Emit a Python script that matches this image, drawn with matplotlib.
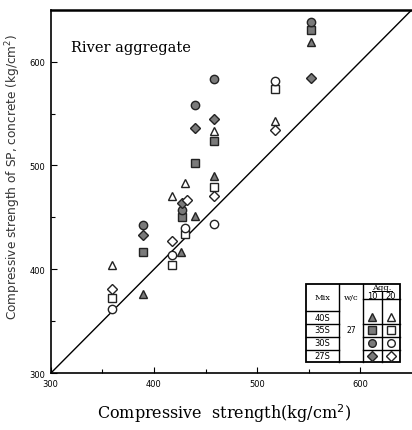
import matplotlib
matplotlib.use("Agg")
import matplotlib.pyplot as plt
from matplotlib.patches import Rectangle

# 横軸: 普通コンクリートの圧縮強度, 縦軸: SPコンクリートの圧縮強度 (kg/cm2)
# Agg.10 (塗りつぶし)
tri10_x = [389, 426, 440, 458, 552]
tri10_y = [376, 417, 451, 490, 619]
sq10_x = [389, 427, 440, 458, 552]
sq10_y = [417, 450, 502, 524, 630]
cir10_x = [389, 427, 440, 458, 552]
cir10_y = [443, 457, 558, 583, 638]
dia10_x = [389, 427, 440, 458, 552]
dia10_y = [433, 464, 536, 545, 584]

# Agg.20 (白抜き)
tri20_x = [359, 418, 430, 458, 517]
tri20_y = [404, 471, 483, 533, 543]
sq20_x = [359, 418, 430, 458, 517]
sq20_y = [372, 404, 434, 479, 574]
cir20_x = [359, 418, 430, 458, 517]
cir20_y = [362, 414, 440, 444, 581]
dia20_x = [359, 418, 432, 458, 517]
dia20_y = [381, 427, 467, 471, 534]

mix_labels = ["40S", "35S", "30S", "27S"]
markers = ["^", "s", "o", "D"]
wc_label = "27"

FILL = "#7a7a7a"
EDGE = "#222222"


def main():
    fig = plt.figure(figsize=(4.12, 4.31), dpi=100)
    ax = fig.add_axes([0.123, 0.1316, 0.877, 0.8438])

    ax.plot([300, 650], [300, 650], color="black", lw=1.0, zorder=1)

    filled = [(tri10_x, tri10_y, "^"), (sq10_x, sq10_y, "s"),
              (cir10_x, cir10_y, "o"), (dia10_x, dia10_y, "D")]
    opened = [(tri20_x, tri20_y, "^"), (sq20_x, sq20_y, "s"),
              (cir20_x, cir20_y, "o"), (dia20_x, dia20_y, "D")]
    for xs, ys, m in filled:
        ms = 5.3 if m == "D" else 6.0
        ax.plot(xs, ys, ls="none", marker=m, ms=ms, mfc=FILL, mec=EDGE, mew=1.0, zorder=3)
    for xs, ys, m in opened:
        ms = 5.3 if m == "D" else 6.0
        ax.plot(xs, ys, ls="none", marker=m, ms=ms, mfc="white", mec=EDGE, mew=1.0, zorder=3)

    ax.set_xlim(300, 650)
    ax.set_ylim(300, 650)
    ax.set_xticks([300, 400, 500, 600])
    ax.set_yticks([300, 400, 500, 600])
    ax.set_xticks([350, 450, 550], minor=True)
    ax.set_yticks([350, 450, 550], minor=True)
    ax.tick_params(which="major", direction="in", length=4, width=0.8, labelsize=6, pad=4)
    ax.tick_params(which="minor", direction="in", length=3, width=0.8)
    ax.spines["right"].set_visible(False)
    for s in ["left", "bottom"]:
        ax.spines[s].set_linewidth(1.2)
    ax.spines["top"].set_linewidth(1.8)

    ax.text(0.055, 0.885, "River aggregate", transform=ax.transAxes,
            family="DejaVu Serif", fontsize=10.5)

    fig.text(0.235, 0.04, "Compressive  strength(kg/cm$^2$)", family="DejaVu Serif",
             fontsize=11.5, ha="left", va="center")
    fig.text(0.032, 0.59, "Compressive strength of SP, concrete (kg/cm$^2$)",
             rotation=90, fontsize=8.7, ha="center", va="center", color="#333333")

    # 凡例の表 (ピクセル座標)
    tb = fig.add_axes([0, 0, 1, 1], zorder=5)
    tb.set_xlim(0, 412)
    tb.set_ylim(431, 0)
    tb.axis("off")
    x0, x1, x2, x3, xs = 306, 339.3, 362.7, 400, 382
    y0, y3 = 285, 363
    rows = [312, 324.5, 337.5, 350.5, 363]
    tb.add_patch(Rectangle((x0, y0), x3 - x0, y3 - y0, fc="white", ec="black", lw=1.3))
    for xv in [x1, x2]:
        tb.plot([xv, xv], [y0, y3], color="black", lw=1.0)
    tb.plot([xs, xs], [293, y3], color="black", lw=1.0)
    for yv in rows[:-1]:
        tb.plot([x0, x1], [yv, yv], color="black", lw=1.0)
    tb.plot([x2, x3], [300, 300], color="black", lw=1.0)
    tb.plot([372, 392], [292, 292], color="black", lw=0.7)
    for yv in rows[1:-1]:
        tb.plot([x2, x3], [yv, yv], color="black", lw=1.0)

    tb.text((x0 + x1) / 2, 298.5, "Mix", fontsize=6, ha="center", va="center", family="DejaVu Serif")
    tb.text((x1 + x2) / 2, 298.5, "w/c", fontsize=6, ha="center", va="center", family="DejaVu Serif")
    tb.text((x2 + x3) / 2, 288.5, "Agg.", fontsize=6, ha="center", va="center", family="DejaVu Serif")
    tb.text((x2 + xs) / 2, 296.5, "10", fontsize=6, ha="center", va="center")
    tb.text((xs + x3) / 2, 296.5, "20", fontsize=6, ha="center", va="center")
    tb.text((x1 + x2) / 2, 331, wc_label, fontsize=5.5, ha="center", va="center")
    for i, (lab, m) in enumerate(zip(mix_labels, markers)):
        yc = (rows[i] + rows[i + 1]) / 2
        tb.text((x0 + x1) / 2, yc, lab, fontsize=6, ha="center", va="center")
        tb.plot((x2 + xs) / 2, yc, marker=m, ms=5.5, mfc=FILL, mec=EDGE, mew=1.0)
        tb.plot((xs + x3) / 2, yc, marker=m, ms=5.5, mfc="white", mec=EDGE, mew=1.0)

    fig.savefig("out.png", dpi=100)
    plt.close(fig)


if __name__ == "__main__":
    main()
